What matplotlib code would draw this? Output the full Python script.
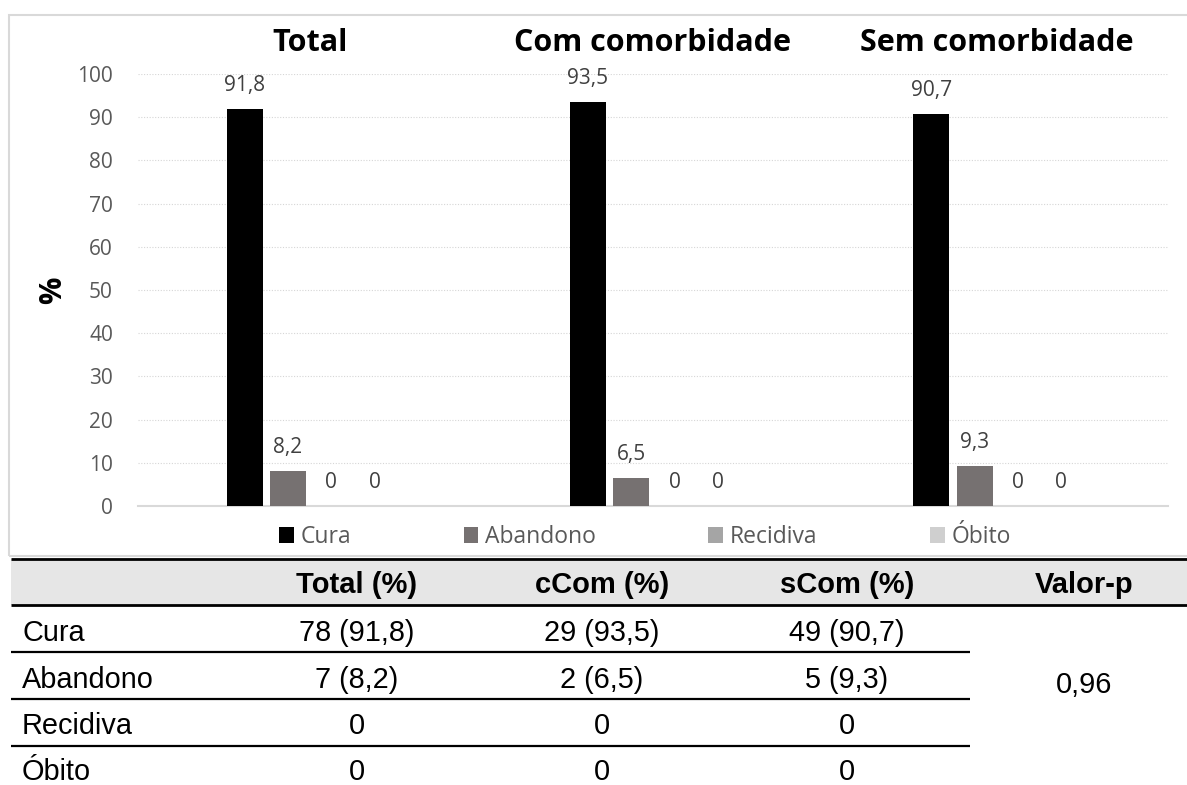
import matplotlib
matplotlib.use("Agg")
import matplotlib.pyplot as plt
import matplotlib.transforms as mtransforms
from matplotlib.patches import Rectangle, Patch
from matplotlib.lines import Line2D

# ---------------- data ----------------
groups = ["Total", "Com comorbidade", "Sem comorbidade"]
series = ["Cura", "Abandono", "Recidiva", "Óbito"]
cura = [91.8, 93.5, 90.7]
abandono = [8.2, 6.5, 9.3]
recidiva = [0, 0, 0]
obito = [0, 0, 0]
yticks = [0, 10, 20, 30, 40, 50, 60, 70, 80, 90, 100]

table_header = ["", "Total (%)", "cCom (%)", "sCom (%)", "Valor-p"]
table_rows = ["Cura", "Abandono", "Recidiva", "Óbito"]
col_total = ["78 (91,8)", "7 (8,2)", "0", "0"]
col_ccom = ["29 (93,5)", "2 (6,5)", "0", "0"]
col_scom = ["49 (90,7)", "5 (9,3)", "0", "0"]
p_value = "0,96"

colors = ["#000000", "#767171", "#a5a5a5", "#cfcfcf"]

# ---------------- figure ----------------
W, H = 1187, 785
fig = plt.figure(figsize=(W / 100, H / 100), dpi=100)
fig.patch.set_facecolor("white")

def fx(x):
    return x / W

def fy(y):
    return 1 - y / H

CHART_FONT = ["Open Sans", "DejaVu Sans"]
TABLE_FONT = ["Liberation Sans", "DejaVu Sans"]

# chart border
fig.patches.append(Rectangle((fx(9), fy(556)), fx(1200) - fx(9), fy(15) - fy(556),
                             transform=fig.transFigure, fill=False,
                             edgecolor="#d9d9d9", linewidth=1.5, zorder=0))

left, right, top, bottom = 138, 1168, 74, 506
ax = fig.add_axes([fx(left), fy(bottom), fx(right) - fx(left), fy(top) - fy(bottom)])

step = 43.3 / 343.3
width = 36 / 343.3
all_series = [cura, abandono, recidiva, obito]
for k, (name, vals) in enumerate(zip(series, all_series)):
    xs = [i + (k - 1.5) * step for i in range(len(groups))]
    ax.bar(xs, vals, width=width, color=colors[k], label=name, zorder=3)
    for x, v in zip(xs, vals):
        txt = ("%g" % v).replace(".", ",")
        ax.annotate(txt, (x, v), xytext=(0, 13), textcoords="offset points",
                    ha="center", va="baseline", fontsize=15, color="#404040",
                    family=CHART_FONT)

ax.set_xlim(-0.5, len(groups) - 0.5)
ax.set_ylim(0, 100)
ax.set_yticks(yticks)
ax.set_yticklabels([str(t) for t in yticks], family=CHART_FONT, fontsize=15, color="#595959")
ax.tick_params(axis="y", length=0, pad=18)
ax.set_xticks([])
for s in ["top", "right", "left"]:
    ax.spines[s].set_visible(False)
ax.spines["bottom"].set_color("#d9d9d9")
ax.spines["bottom"].set_linewidth(1.5)
ax.grid(axis="y", color="#d6d6d6", linestyle=(0, (1, 1.5)), linewidth=0.8, zorder=0)
ax.set_axisbelow(True)

# y label "%"
fig.text(fx(53), fy(290), "%", rotation=90, ha="center", va="center",
         family=CHART_FONT, fontsize=22, fontweight="bold")

# group titles (x from data coordinates, y in figure pixels)
title_tr = mtransforms.blended_transform_factory(ax.transData, fig.transFigure)
for i, g in enumerate(groups):
    ax.text(i, fy(51), g, transform=title_tr, ha="center", va="baseline",
            fontsize=22, fontweight="bold", family=CHART_FONT)

# legend
handles = [Patch(facecolor=c, edgecolor="none") for c in colors]
leg = ax.legend(handles, series, loc="center",
                bbox_to_anchor=(0.5 - 8 / (right - left),
                                (fy(537) - fy(bottom)) / (fy(top) - fy(bottom))),
                ncol=4, frameon=False, handlelength=0.65, handleheight=0.65,
                handletextpad=0.3, columnspacing=4.9,
                prop={"family": CHART_FONT, "size": 16.5})
for t in leg.get_texts():
    t.set_color("#595959")

# ---------------- table ----------------
def hline(y, x0, x1, lw):
    fig.lines.append(Line2D([fx(x0), fx(x1)], [fy(y), fy(y)], transform=fig.transFigure,
                            color="black", linewidth=lw, solid_capstyle="butt"))

fig.patches.append(Rectangle((fx(11), fy(605)), fx(1187) - fx(11), fy(559) - fy(605),
                             transform=fig.transFigure, facecolor="#e6e6e6",
                             edgecolor="none", zorder=0))
hline(559, 11, 1187, 2.0)
hline(605, 11, 1187, 2.0)
for y in [652, 699, 746]:
    hline(y, 11, 970, 1.6)

col_x = [22, 357, 602, 847, 1084]
header_base = 593
for j, h in enumerate(table_header):
    if h:
        fig.text(fx(col_x[j]), fy(header_base), h, ha="center", va="baseline",
                 fontsize=21, fontweight="bold", family=TABLE_FONT)

row_base = [641, 688, 734, 780]
for r, name in enumerate(table_rows):
    fig.text(fx(col_x[0]), fy(row_base[r]), name, ha="left", va="baseline",
             fontsize=20.8, family=TABLE_FONT)
    for j, col in enumerate([col_total, col_ccom, col_scom]):
        fig.text(fx(col_x[j + 1]), fy(row_base[r]), col[r], ha="center", va="baseline",
                 fontsize=20.8, family=TABLE_FONT)
fig.text(fx(col_x[4]), fy(693), p_value, ha="center", va="baseline",
         fontsize=20.8, family=TABLE_FONT)

fig.savefig("out.png", dpi=100, facecolor="white")
